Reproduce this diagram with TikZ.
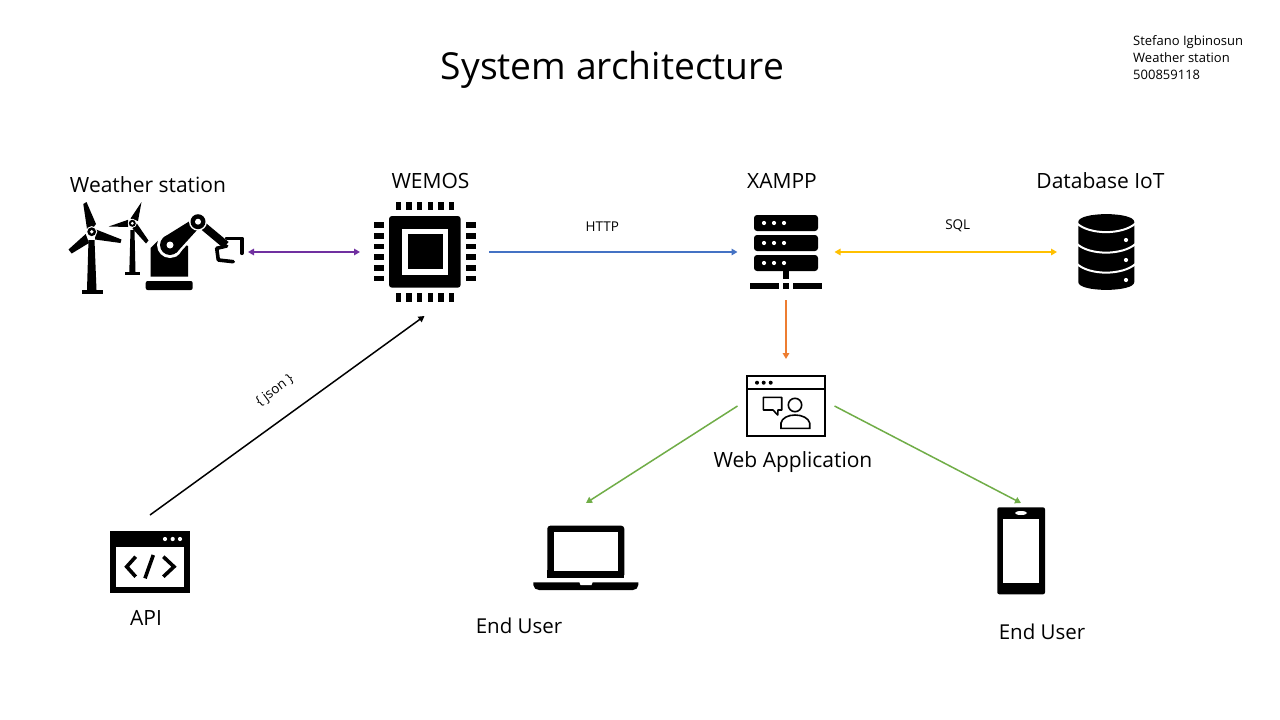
\documentclass[tikz,border=0pt]{standalone}
\usepackage{fontspec}
\setmainfont{Open Sans}
\usetikzlibrary{arrows.meta}
\definecolor{linkpurple}{HTML}{7030A0}
\definecolor{linkblue}{HTML}{4472C4}
\definecolor{linkgold}{HTML}{FFC000}
\definecolor{linkorange}{HTML}{ED7D31}
\definecolor{linkgreen}{HTML}{70AD47}
\tikzset{
  holder/.style={inner sep=0pt,outer sep=0pt},
  link/.style={line width=1.5pt,-{Triangle[length=6pt,width=6.5pt]}},
  twolink/.style={line width=1.5pt,{Triangle[length=6pt,width=6.5pt]}-{Triangle[length=6pt,width=6.5pt]}},
  biglabel/.style={font=\fontsize{21}{24}\selectfont},
  userlabel/.style={font=\fontsize{20.5}{24}\selectfont},
  smalllabel/.style={font=\fontsize{13.5}{15}\selectfont}
}
\begin{document}
\begin{tikzpicture}[x=1pt,y=-1pt]
\fill[white] (0,0) rectangle (1280,720);
\useasboundingbox (0,0) rectangle (1280,720);
% The holders of the icons
\node[holder,minimum width=100pt,minimum height=128pt] (station) at (198,252) {};
\node[holder,minimum width=129pt,minimum height=128pt] (wemos) at (424.5,252) {};
\node[holder,minimum width=97pt,minimum height=96pt] (xampp) at (786,252) {};
\node[holder,minimum width=98pt,minimum height=96pt] (database) at (1106,252) {};
\node[holder,minimum width=97pt,minimum height=94pt] (webapp) at (786,406) {};
\node[holder,minimum width=100pt,minimum height=96pt] (api) at (150,563) {};
\node[holder,minimum width=106pt,minimum height=90pt] (laptop) at (586,548) {};
\node[holder,minimum width=48pt,minimum height=100pt] (phone) at (1021,553) {};
% The texts
\node (title) at (612.5,70) {\fontsize{37.2}{44}\selectfont System architecture};
\node[anchor=north west,align=left,inner sep=0pt,font=\fontsize{13}{17}\selectfont] (credits) at (1133,35) {Stefano Igbinosun\\Weather station\\500859118};
\node[biglabel] (stationlabel) at (148,184.5) {Weather station};
\node[biglabel] (wemoslabel) at (430.5,180.5) {WEMOS};
\node[biglabel] (xampplabel) at (782,180.5) {XAMPP};
\node[biglabel] (databaselabel) at (1100.5,180.5) {Database IoT};
\node[biglabel] (webapplabel) at (793,462) {Web Application};
\node[biglabel] (apilabel) at (146,618) {API};
\node[userlabel] (laptoplabel) at (519,626) {End User};
\node[userlabel] (phonelabel) at (1042,632) {End User};
% The connectors
\draw[twolink,linkpurple] (station) -- (wemos);
\draw[link,linkblue] (wemos) -- node[smalllabel,black,above=16pt,xshift=-11pt] (http) {HTTP} (xampp);
\draw[twolink,linkgold] (xampp) -- node[smalllabel,black,above=16pt,xshift=12pt] (sql) {SQL} (database);
\draw[link,linkorange] (xampp) -- (webapp);
\draw[link,linkgreen] (webapp.west) -- (laptop.north);
\draw[link,linkgreen] (webapp.east) -- (phone.north);
\draw[link,black] (api.north) -- (wemos.south);
\node[smalllabel,rotate=37] (json) at (275,391) {\{ json \}};
% The turbines
\fill (83.3,204) -- (86.5,202) -- (96,224) -- (92.3,229) -- (87,229) -- cycle;
\fill (96,229.5) -- (121.5,239.5) -- (120.5,243) -- (95,239.5) -- cycle;
\fill (85.7,234) -- (68.5,249.5) -- (71.7,253.5) -- (89,243) -- cycle;
\fill (141.5,202) -- (130.5,218.5) -- (138,221) -- cycle;
\fill (108.8,226.5) -- (128,219.8) -- (128,227) -- cycle;
\fill (148.5,240.5) -- (146,243.5) -- (132.5,228.5) -- (136.5,223) -- cycle;
\foreach \hx/\hy/\w in {91.7/231.7/1,132.3/223.3/0.8}
{
  \fill[white] (\hx,\hy) circle[radius=5.6*\w];
  \fill (\hx,\hy) circle[radius=4.4*\w];
  \fill[white] (\hx,\hy) circle[radius=1.9*\w];
}
\fill (88.5,240) -- (94.5,240) -- (96.5,290) -- (87,290) -- cycle;
\fill (81.7,290) rectangle (103.3,294.3);
\fill (130.5,230) -- (134.5,230) -- (135.5,272) -- (129.3,272) -- cycle;
\fill (125,271.7) rectangle (140,275);
% The robot arm
\fill[rounded corners=2pt] (145.7,290) -- (145.7,281) -- (192.7,281) -- (192.7,290) -- cycle;
\fill (150.7,276.7) -- (150.7,248) -- (160,238.5) -- (172,238) -- (188,246) -- (188,276.7) -- cycle;
\fill[white] (170,245) circle[radius=13];
\draw[white,line width=5pt,fill=white] (176.4,252.7) -- (163.6,237.3) -- (194.8,217.9) -- (201.2,225.5) -- cycle;
\fill (176.4,252.7) -- (163.6,237.3) -- (194.8,217.9) -- (201.2,225.5) -- cycle;
\fill (170,245) circle[radius=10];
\draw[line width=8pt] (198,221.7) -- (226,245);
\fill[white] (198,221.7) circle[radius=9];
\fill (198,221.7) circle[radius=7.5];
\fill[white] (198,221.7) circle[radius=3];
\fill[white] (170,245) circle[radius=3.5];
\draw[line width=3.6pt,line join=round,line cap=round] (226.7,238.3) -- (241.7,238.3) -- (241.7,253.3);
\draw[line width=3.6pt,line join=round,line cap=round] (226.7,246) -- (216.7,248.3) -- (218.3,260) -- (233.3,261.7);
% The chip
\fill[rounded corners=3pt] (389,216) rectangle (460.7,287.7);
\fill[white] (402.3,229.3) rectangle (447.7,274.7);
\fill (407.7,234.3) rectangle (442.7,269.3);
\foreach \pin in {0,...,5}
{
  \fill (395.7+10.67*\pin,201.7) rectangle (401+10.67*\pin,210);
  \fill (395.7+10.67*\pin,293.3) rectangle (401+10.67*\pin,301.7);
  \fill (374.3,222.3+10.67*\pin) rectangle (384,228+10.67*\pin);
  \fill (466,222.3+10.67*\pin) rectangle (475.7,228+10.67*\pin);
}
% The server
\foreach \rack in {215,235,255}
{
  \fill[rounded corners=3pt] (754,\rack) rectangle (818,\rack+16);
  \foreach \dot in {764,774,784}
    \fill[white] (\dot,\rack+8) circle[radius=2.1];
}
\fill (783.3,271) rectangle (789,279);
\fill (750,283) rectangle (779,289);
\fill (783.3,283) rectangle (789,289);
\fill (793,283) rectangle (822,289);
% The database
\fill (1078.3,222) .. controls (1078.3,211.5) and (1134.3,211.5) .. (1134.3,222) -- (1134.3,282) .. controls (1134.3,292.5) and (1078.3,292.5) .. (1078.3,282) -- cycle;
\foreach \band in {223.5,244,264}
  \draw[white,line width=2pt] (1077,\band) .. controls (1090,\band+11.5) and (1122,\band+11.5) .. (1135.5,\band);
\foreach \dot in {240,260,280}
  \fill[white] (1126,\dot) circle[radius=2.1];
% The web application
\draw[line width=2.3pt] (747,376) rectangle (825,436);
\draw[line width=1.8pt] (747,389.3) -- (825,389.3);
\foreach \dot in {757,763.7,770.7}
  \fill (\dot,382.7) circle[radius=2];
\draw[line width=1.6pt,line join=round] (763.3,397.3) -- (781.7,397.3) -- (781.7,410) -- (778,410) -- (777.7,415) -- (773,410) -- (763.3,410) -- cycle;
\draw[line width=1.6pt] (795,405) circle[radius=6.7];
\draw[line width=1.6pt] (781,428.3) -- (781,423) .. controls (782,418) and (788,415) .. (795,415) .. controls (802,415) and (808.5,418) .. (809.7,423) -- (809.7,428.3) -- cycle;
% The code window
\fill (110,531) rectangle (190,593);
\fill[white] (116,547) rectangle (184,587);
\foreach \dot in {165,172.7,180}
  \fill[white] (\dot,539) circle[radius=2.1];
\draw[line width=3.6pt] (135.7,556.7) -- (126.7,566.7) -- (135.7,576.7);
\draw[line width=3.6pt] (163.3,556.7) -- (174,566.7) -- (163.3,576.7);
\draw[line width=3.6pt] (153.3,555) -- (145,578.3);
% The laptop
\fill[rounded corners=3pt] (547.3,577.7) -- (547.3,525.7) -- (624.3,525.7) -- (624.3,577.7) -- cycle;
\fill (547.3,570) rectangle (624.3,577.7);
\fill[white] (554,532.3) rectangle (618.3,571);
\fill (533.3,582.3) -- (638.3,582.3) -- (638.3,585) .. controls (638,588) and (636,590) .. (633,590) -- (539,590) .. controls (536,590) and (533.6,588) .. (533.3,585) -- cycle;
\fill[white] (579.3,582) -- (592.7,582) -- (591.5,585) -- (580.5,585) -- cycle;
% The phone
\fill[rounded corners=2pt] (997.3,507.3) rectangle (1045,594.3);
\fill[white] (1003,519) rectangle (1039,582.7);
\fill[white] (1021,513) ellipse[x radius=6,y radius=2];
\end{tikzpicture}
\end{document}
